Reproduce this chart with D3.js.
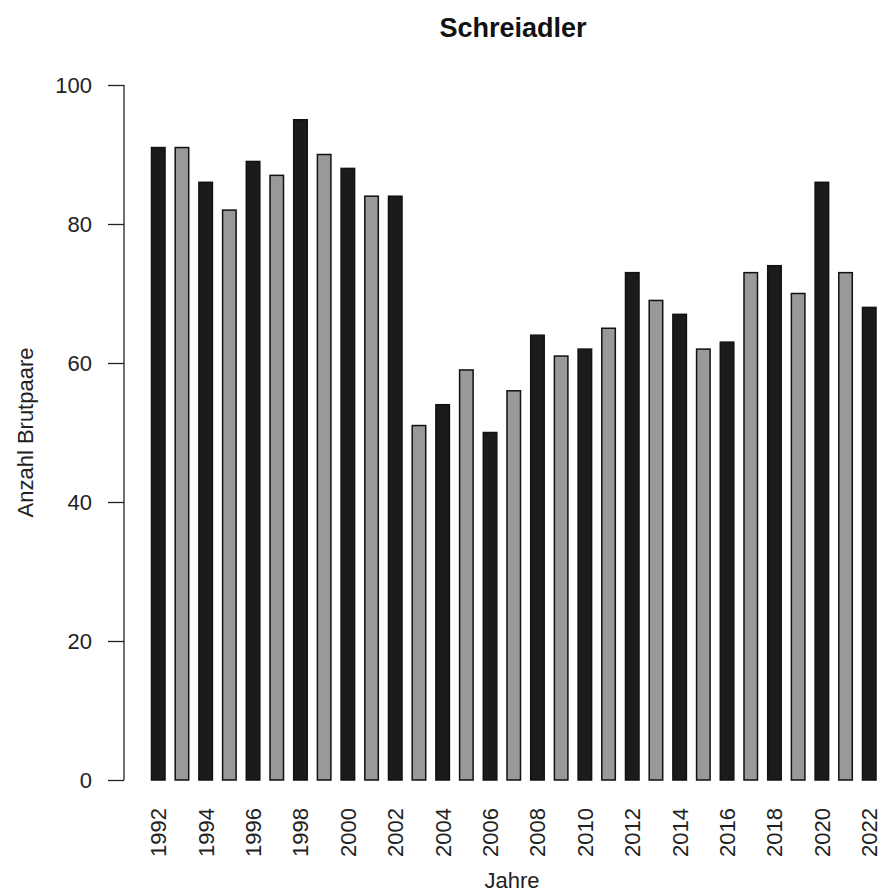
<script src="https://d3js.org/d3.v7.min.js"></script>
<style>
  body { margin: 0; background: #fff; }
  svg { font-family: "Liberation Sans", Arial, sans-serif; }
</style>
<svg id="chart" width="885" height="893"></svg>
<script>
  // Brutpaare Schreiadler per Jahr
  let years = [1992, 1993, 1994, 1995, 1996, 1997, 1998, 1999, 2000, 2001, 2002,
    2003, 2004, 2005, 2006, 2007, 2008, 2009, 2010, 2011, 2012, 2013, 2014,
    2015, 2016, 2017, 2018, 2019, 2020, 2021, 2022];
  let pairs = [91, 91, 86, 82, 89, 87, 95, 90, 88, 84, 84,
    51, 54, 59, 50, 56, 64, 61, 62, 65, 73, 69, 67,
    62, 63, 73, 74, 70, 86, 73, 68];
  let yTicks = [0, 20, 40, 60, 80, 100];
  let xLabels = years.filter((y) => y % 2 == 0);

  let svg = d3.select("#chart");

  let x = d3.scaleBand()
    .domain(years)
    .range([151.5, 876])
    .paddingInner(0.43)
    .paddingOuter(0);

  let y = d3.scaleLinear().domain([0, 100]).range([780, 85]);

  // bars, even years black, odd years grey
  svg.selectAll("rect.bar")
    .data(years)
    .enter()
    .append("rect")
    .attr("class", "bar")
    .attr("x", (d) => x(d))
    .attr("y", (d, i) => y(pairs[i]))
    .attr("width", x.bandwidth())
    .attr("height", (d, i) => y(0) - y(pairs[i]))
    .attr("fill", (d) => (d % 2 == 0 ? "#1b1b1b" : "#999999"))
    .attr("stroke", "#111")
    .attr("stroke-width", 1.5);

  // y axis (R style)
  let yAxis = d3.axisLeft(y).tickValues(yTicks).tickSize(16).tickPadding(16);
  let gy = svg.append("g").attr("transform", "translate(124,0)").call(yAxis);
  gy.select(".domain").attr("d", "M0," + y(0) + "V" + y(100)).attr("stroke", "#222").attr("stroke-width", 1.3);
  gy.selectAll(".tick line").attr("stroke", "#222").attr("stroke-width", 1.3);
  gy.selectAll(".tick text")
    .attr("font-size", 22)
    .attr("fill", "#222")
    .style("font-family", "'Liberation Sans', Arial, sans-serif");

  // year labels, vertical
  svg.selectAll("text.year")
    .data(xLabels)
    .enter()
    .append("text")
    .attr("class", "year")
    .attr("transform", (d) => "translate(" + (x(d) + x.bandwidth() / 2 + 8) + ",808) rotate(-90)")
    .attr("text-anchor", "end")
    .attr("font-size", 22)
    .attr("fill", "#222")
    .text((d) => d);

  // titles
  svg.append("text")
    .attr("x", 513)
    .attr("y", 37)
    .attr("text-anchor", "middle")
    .attr("font-size", 27)
    .attr("font-weight", "bold")
    .attr("fill", "#111")
    .text("Schreiadler");

  svg.append("text")
    .attr("x", 512)
    .attr("y", 888)
    .attr("text-anchor", "middle")
    .attr("font-size", 22)
    .attr("fill", "#222")
    .text("Jahre");

  svg.append("text")
    .attr("transform", "translate(33," + (y(0) + y(100)) / 2 + ") rotate(-90)")
    .attr("text-anchor", "middle")
    .attr("font-size", 22)
    .attr("fill", "#222")
    .text("Anzahl Brutpaare");
</script>
